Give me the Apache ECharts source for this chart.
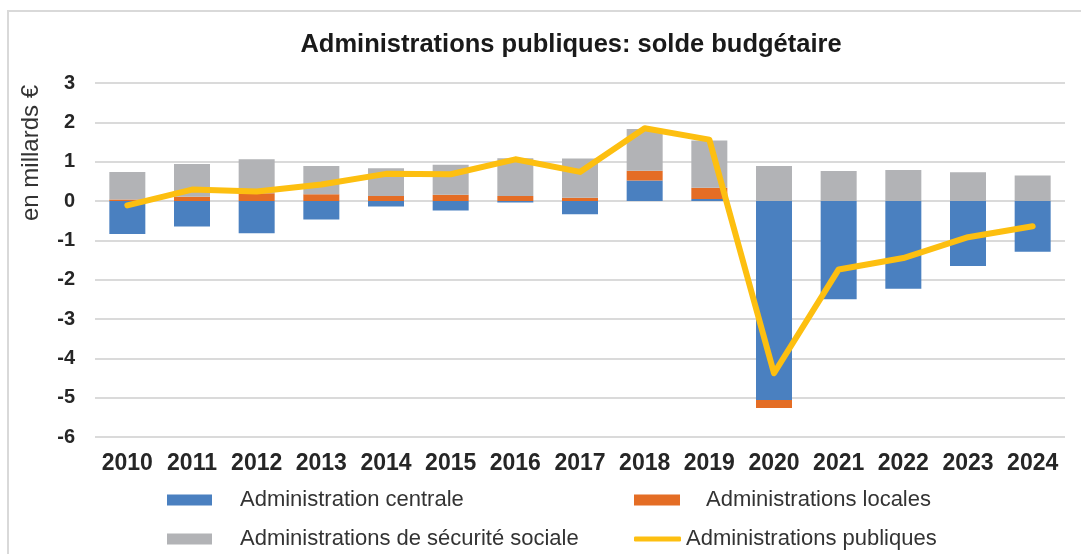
<!DOCTYPE html>
<html lang="fr">
<head>
<meta charset="utf-8">
<title>Administrations publiques: solde budgétaire</title>
<script src="https://cdn.jsdelivr.net/npm/echarts@6/dist/echarts.min.js"></script>
<style>
  html, body { margin: 0; padding: 0; background: #ffffff; }
  #chart { width: 1081px; height: 554px; }
</style>
</head>
<body>
<div id="chart"></div>
<script>
// Budget balance by government sub-sector, in billions of euros
const years = ['2010', '2011', '2012', '2013', '2014', '2015', '2016', '2017',
               '2018', '2019', '2020', '2021', '2022', '2023', '2024'];
const centrale = [-0.84, -0.65, -0.82, -0.47, -0.14, -0.24, -0.04, -0.34,
                  0.52, 0.05, -5.06, -2.50, -2.23, -1.65, -1.29];
const locales = [0.04, 0.11, 0.20, 0.17, 0.13, 0.16, 0.13, 0.08,
                 0.25, 0.29, -0.20, 0.00, 0.00, 0.00, 0.00];
const securiteSociale = [0.70, 0.83, 0.86, 0.72, 0.70, 0.76, 0.96, 1.00,
                         1.06, 1.20, 0.89, 0.76, 0.79, 0.73, 0.65];
const publiques = [-0.11, 0.29, 0.24, 0.42, 0.69, 0.68, 1.06, 0.74,
                   1.85, 1.56, -4.38, -1.74, -1.45, -0.92, -0.64];
const yTicks = { min: -6, max: 3, step: 1 };

const names = {
  centrale: 'Administration centrale',
  locales: 'Administrations locales',
  secu: 'Administrations de sécurité sociale',
  publiques: 'Administrations publiques'
};
const colors = {
  centrale: '#4a80c0',
  locales: '#e46d25',
  secu: '#b2b3b6',
  publiques: '#fdbf10'
};

const textColor = '#262626';
const legendFont = { fontFamily: 'Liberation Sans, Arial, sans-serif', fontSize: 22, color: '#333333', lineHeight: 24 };

function legendBox(name, left, top, opts) {
  return Object.assign({
    data: [name],
    left: left,
    top: top,
    orient: 'horizontal',
    padding: 0,
    icon: 'rect',
    itemWidth: 45,
    itemHeight: 11,
    selectedMode: false,
    textStyle: Object.assign({}, legendFont)
  }, opts || {});
}

const chart = echarts.init(document.getElementById('chart'), null, { renderer: 'canvas' });

chart.setOption({
  animation: false,
  backgroundColor: '#ffffff',
  title: {
    text: 'Administrations publiques: solde budgétaire',
    left: 566,
    top: 27,
    textAlign: 'center',
    textStyle: {
      fontFamily: 'Liberation Sans, Arial, sans-serif',
      fontWeight: 'bold',
      fontSize: 25.5,
      color: '#1a1a1a'
    }
  },
  graphic: [
    {
      type: 'rect',
      silent: true,
      shape: { x: 8, y: 11, width: 1100, height: 600 },
      style: { fill: 'none', stroke: '#d9d9d9', lineWidth: 2 },
      z: -1
    },
    {
      type: 'text',
      silent: true,
      x: 31,
      y: 153,
      rotation: Math.PI / 2,
      style: {
        text: 'en millards €',
        fontFamily: 'Liberation Sans, Arial, sans-serif',
        fontSize: 24,
        fill: '#333333',
        align: 'center',
        verticalAlign: 'middle'
      }
    }
  ],
  legend: [
    legendBox(names.centrale, 167, 488, { textStyle: Object.assign({}, legendFont, { padding: [0, 0, 0, 23] }) }),
    legendBox(names.locales, 634, 488, { itemWidth: 46, textStyle: Object.assign({}, legendFont, { padding: [0, 0, 0, 21] }) }),
    legendBox(names.secu, 167, 527, { textStyle: Object.assign({}, legendFont, { padding: [0, 0, 0, 23] }) }),
    legendBox(names.publiques, 634, 527, {
      itemWidth: 47,
      itemHeight: 5,
      icon: 'roundRect',
      textStyle: Object.assign({}, legendFont, { padding: [0, 0, 0, 0] })
    })
  ],
  grid: {
    left: 95,
    right: 16,
    top: 83,
    bottom: 117,
    containLabel: false
  },
  xAxis: {
    type: 'category',
    data: years,
    boundaryGap: true,
    axisLine: { show: false },
    axisTick: { show: false },
    axisLabel: {
      interval: 0,
      margin: 15,
      fontFamily: 'Liberation Sans, Arial, sans-serif',
      fontWeight: 'bold',
      fontSize: 23,
      color: textColor
    }
  },
  yAxis: {
    type: 'value',
    min: yTicks.min,
    max: yTicks.max,
    interval: yTicks.step,
    axisLine: { show: false },
    axisTick: { show: false },
    axisLabel: {
      margin: 20,
      fontFamily: 'Liberation Sans, Arial, sans-serif',
      fontWeight: 'bold',
      fontSize: 20,
      color: textColor
    },
    splitLine: { lineStyle: { color: '#dadada', width: 2 } }
  },
  series: [
    {
      name: names.centrale,
      type: 'bar',
      stack: 'solde',
      barWidth: 36,
      data: centrale,
      itemStyle: { color: colors.centrale }
    },
    {
      name: names.locales,
      type: 'bar',
      stack: 'solde',
      barWidth: 36,
      data: locales,
      itemStyle: { color: colors.locales }
    },
    {
      name: names.secu,
      type: 'bar',
      stack: 'solde',
      barWidth: 36,
      data: securiteSociale,
      itemStyle: { color: colors.secu }
    },
    {
      name: names.publiques,
      type: 'line',
      data: publiques,
      symbol: 'none',
      z: 5,
      itemStyle: { color: colors.publiques },
      lineStyle: { color: colors.publiques, width: 6, join: 'round', cap: 'round' }
    }
  ]
});
</script>
</body>
</html>
